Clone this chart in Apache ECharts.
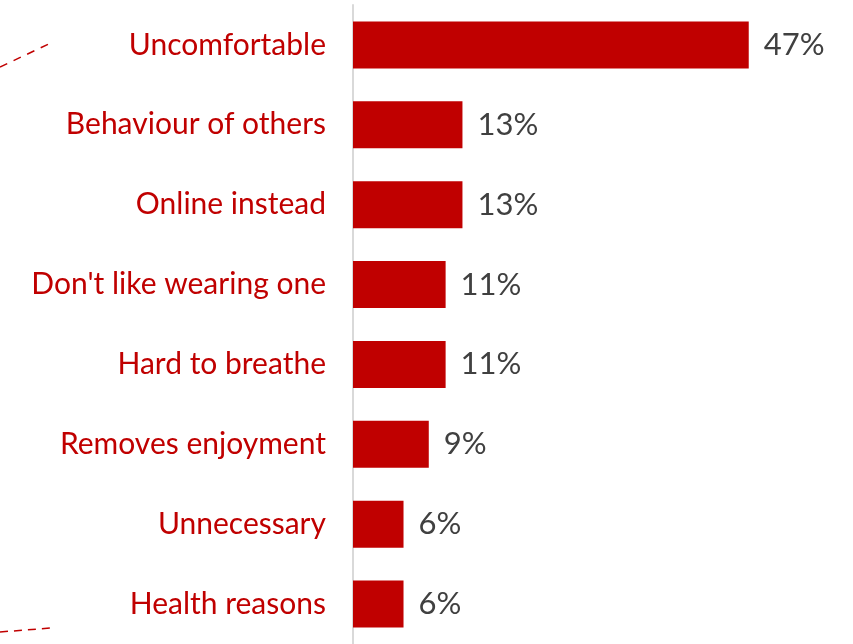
<!DOCTYPE html>
<html>
<head>
<meta charset="utf-8">
<script src="https://cdn.jsdelivr.net/npm/echarts@6/dist/echarts.min.js"></script>
<style>
  html, body { margin: 0; padding: 0; background: #fff; }
  #chart { width: 853px; height: 644px; }
</style>
</head>
<body>
<div id="chart"></div>
<script>
// Reasons given for not wearing one (share of respondents, %)
const categories = [
  "Uncomfortable",
  "Behaviour of others",
  "Online instead",
  "Don't like wearing one",
  "Hard to breathe",
  "Removes enjoyment",
  "Unnecessary",
  "Health reasons"
];
const values = [47, 13, 13, 11, 11, 9, 6, 6];

const RED = "#c00000";
const FONT = "Lato, 'Open Sans', sans-serif";

const chart = echarts.init(document.getElementById("chart"), null, { renderer: "canvas" });

chart.setOption({
  animation: false,
  grid: { left: 353, right: 79, top: 5, bottom: -4, containLabel: false },
  xAxis: {
    type: "value",
    min: 0,
    max: 50,
    show: false
  },
  yAxis: {
    type: "category",
    inverse: true,
    data: categories,
    axisLine: { show: true, lineStyle: { color: "#d9d9d9", width: 2 } },
    axisTick: { show: false },
    axisLabel: {
      color: RED,
      fontFamily: FONT,
      fontSize: 30,
      margin: 27
    }
  },
  series: [{
    type: "bar",
    data: values,
    barWidth: 47,
    itemStyle: { color: RED },
    label: {
      show: true,
      position: "right",
      distance: 15,
      formatter: "{c}%",
      color: "#404040",
      fontFamily: FONT,
      fontSize: 31
    }
  }],
  graphic: [
    {
      type: "line",
      shape: { x1: 0, y1: 67, x2: 53, y2: 42 },
      style: { stroke: RED, lineWidth: 1.5, lineDash: [8, 7] }
    },
    {
      type: "line",
      shape: { x1: 0, y1: 632, x2: 50, y2: 628 },
      style: { stroke: RED, lineWidth: 1.5, lineDash: [8, 6] }
    }
  ]
});
</script>
</body>
</html>
